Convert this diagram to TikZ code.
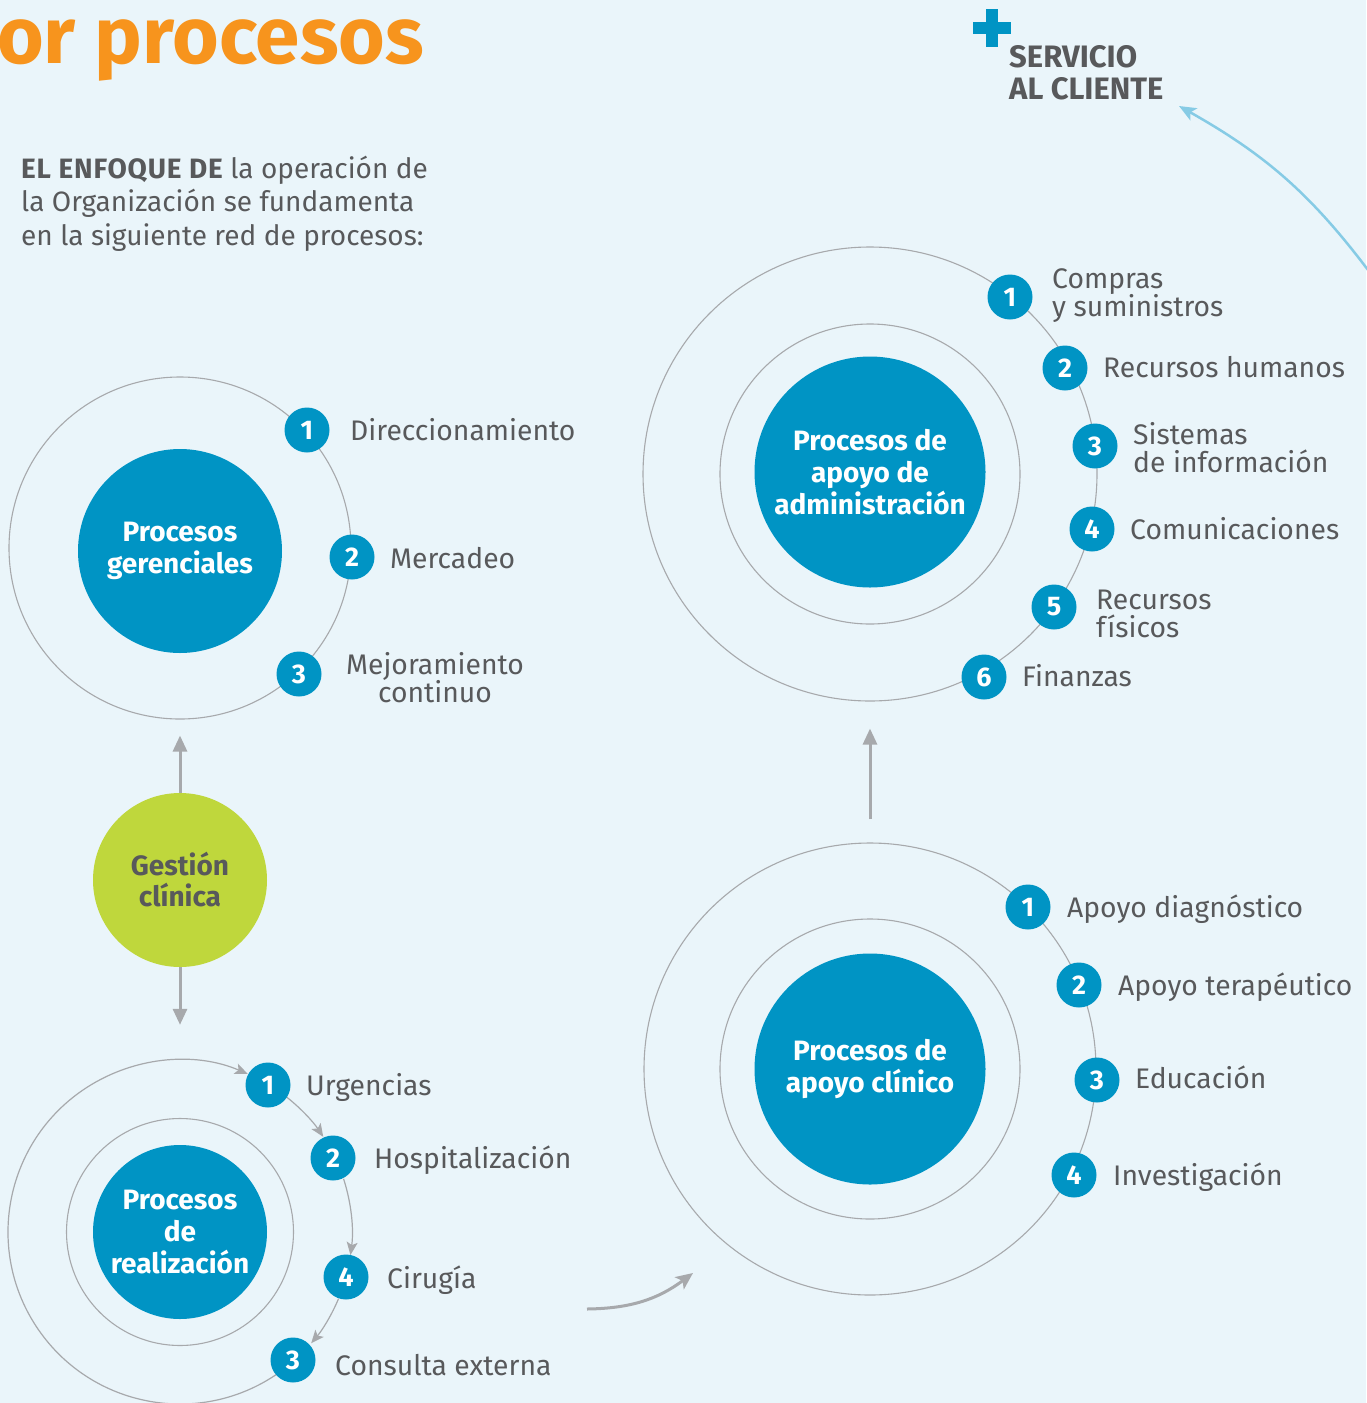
\documentclass[tikz,border=0pt]{standalone}
\usepackage{fontspec}
\setmainfont{Fira Sans}
\IfFontExistsTF{FiraSans-Light.otf}
 {\newfontfamily\lightfont{FiraSans-Light.otf}}
 {\newfontfamily\lightfont{Fira Sans}}
\IfFontExistsTF{FiraSans-SemiBold.otf}
 {\newfontfamily\heavyfont{FiraSans-SemiBold.otf}}
 {\newfontfamily\heavyfontbase{Fira Sans}\newcommand\heavyfont{\heavyfontbase\bfseries}}
\IfFontExistsTF{FiraSans-Medium.otf}
 {\newfontfamily\titlefont{FiraSans-Medium.otf}}
 {\newfontfamily\titlefont{Fira Sans}}
\newfontfamily\boldbase{Fira Sans}
\newcommand\strongfont{\boldbase\bfseries}
\usetikzlibrary{arrows.meta,calc}
\definecolor{bg}{HTML}{EAF5FA}
\definecolor{pblue}{HTML}{0094C4}
\definecolor{pgreen}{HTML}{BFD73C}
\definecolor{tgray}{HTML}{58595B}
\definecolor{rgray}{HTML}{A7A9AC}
\definecolor{porange}{HTML}{F7941D}
\definecolor{lblue}{HTML}{86CBE5}
\newcommand\stkL[2]{\vtop{\baselineskip=#1\lineskiplimit=-100pt\lineskip=0pt\halign{##\hfil\cr#2\crcr}}}
\newcommand\stkC[2]{\vtop{\baselineskip=#1\lineskiplimit=-100pt\lineskip=0pt\halign{\hfil##\hfil\cr#2\crcr}}}
\tikzset{
 ring/.style={circle, draw=rgray, line width=1.1pt, inner sep=0pt, minimum size=#1},
 core/.style={circle, fill=pblue, inner sep=0pt, minimum size=#1, text=white,
   font=\heavyfont\fontsize{28}{32}\selectfont, align=center},
 badge/.style={circle, fill=pblue, inner sep=0pt, minimum size=45pt, text=white,
   font=\heavyfont\fontsize{27}{27}\selectfont},
 lbl/.style={anchor=base west, inner sep=0pt, text=tgray, font=\lightfont\fontsize{28.3}{28.3}\selectfont},
 lblc/.style={lbl, anchor=base},
 garrow/.style={draw=rgray, line width=3pt, -{Triangle[length=16pt,width=14pt]}},
 flow/.style={draw=rgray, line width=1.2pt, -{Stealth[length=13pt,width=11pt,inset=3pt]}},
}
\begin{document}
\begin{tikzpicture}[x=1pt,y=-1pt]
\useasboundingbox (0,0) rectangle (1366,1403);
\fill[bg] (0,0) rectangle (1366,1403);

% title and intro
\node[anchor=base west, inner sep=0pt, text=porange, font=\heavyfont\fontsize{80}{80}\selectfont] (title) at (-3,63) {or procesos};
\node[anchor=base west, inner sep=0pt, text=tgray, font=\lightfont\fontsize{28}{34}\selectfont] (intro) at (21,178)
 {\stkL{33.5pt}{{\strongfont\addfontfeature{LetterSpace=3}EL ENFOQUE DE} la operación de\cr la Organización se fundamenta\cr en la siguiente red de procesos:}};

% servicio al cliente
\fill[pblue] (986,9) rectangle (998,47);
\fill[pblue] (973,22) rectangle (1011,34);
\node[anchor=base west, inner sep=0pt, text=tgray, font=\strongfont\fontsize{31}{32}\selectfont] (svc) at (1009,67)
 {\stkL{32pt}{SERVICIO\cr AL CLIENTE}};
\coordinate (blueStart) at (1374,278);
\coordinate (blueTip) at (1179,106);
\draw[lblue, line width=2.5pt, -{Stealth[length=17pt,width=14pt,inset=4pt]}] (blueStart) to[bend right=12] (blueTip);

% Procesos gerenciales
\node[ring=342pt] (gerO) at (180,548) {};
\node[core=204pt] (gerC) at (180,551) {Procesos\\gerenciales};
\node[badge] (g1) at (307,430) {1};
\node[badge] (g2) at (352,557) {2};
\node[badge] (g3) at (299,674) {3};
\node[lbl] (g1t) at (350,440) {Direccionamiento};
\node[lbl] (g2t) at (390,568) {Mercadeo};
\node[lblc] (g3t) at (435,674) {\stkC{28pt}{Mejoramiento\cr continuo}};

% Gestion clinica
\node[circle, fill=pgreen, inner sep=0pt, minimum size=174pt, text=tgray,
  font=\heavyfont\fontsize{28}{31}\selectfont, align=center] (gc) at (180,880) {Gestión\\clínica};
\draw[garrow, shorten >=16pt] (gc) -- (gerO);

% Procesos de realizacion
\node[circle, inner sep=0pt, minimum size=344pt] (realO) at (180,1232) {};
\node[ring=227pt] (realM) at (180,1232) {};
\node[core=174pt] (realC) at (180,1232) {Procesos\\de\\realización};
\draw[garrow, shorten >=35pt] (gc) -- (realO);
\draw[flow] ([shift={(-55.5:172pt)}]realO.center) arc[start angle=-55.5, end angle=-293.2, radius=172pt];
\draw[flow] ([shift={(51.6:172pt)}]realO.center) arc[start angle=51.6, end angle=33.6, radius=172pt];
\draw[flow] ([shift={(18:172pt)}]realO.center) arc[start angle=18, end angle=-7.7, radius=172pt];
\draw[flow] ([shift={(-22.8:172pt)}]realO.center) arc[start angle=-22.8, end angle=-40.3, radius=172pt];
\node[badge] (r1) at (268,1085) {1};
\node[badge] (r2) at (333,1158) {2};
\node[badge] (r4) at (346,1277) {4};
\node[badge] (r3) at (293,1360) {3};
\node[lbl] (r1t) at (306,1095) {Urgencias};
\node[lbl] (r2t) at (374,1168) {Hospitalización};
\node[lbl] (r4t) at (387,1288) {Cirugía};
\node[lbl] (r3t) at (335,1375) {Consulta externa};

% Procesos de apoyo de administracion
\node[ring=454pt] (admO) at (870,474) {};
\node[ring=300pt] (admM) at (870,474) {};
\node[core=231pt] (admC) at (870,472) {Procesos de\\apoyo de\\administración};
\node[badge] (a1) at (1010,297) {1};
\node[badge] (a2) at (1065,368) {2};
\node[badge] (a3) at (1095,446) {3};
\node[badge] (a4) at (1092,529) {4};
\node[badge] (a5) at (1054,607) {5};
\node[badge] (a6) at (984,677) {6};
\node[lbl] (a1t) at (1052,288) {\stkL{28pt}{Compras\cr y suministros}};
\node[lbl] (a2t) at (1103,377) {Recursos humanos};
\node[lbl] (a3t) at (1133,444) {\stkL{28pt}{Sistemas\cr de información}};
\node[lbl] (a4t) at (1130,539) {Comunicaciones};
\node[lbl] (a5t) at (1096,609) {\stkL{28pt}{Recursos\cr físicos}};
\node[lbl] (a6t) at (1022,686) {Finanzas};

% Procesos de apoyo clinico
\node[ring=452pt] (cliO) at (870,1069) {};
\node[ring=300pt] (cliM) at (870,1069) {};
\node[core=231pt] (cliC) at (870,1069) {Procesos de\\apoyo clínico};
\node[badge] (c1) at (1028,907) {1};
\node[badge] (c2) at (1079,985) {2};
\node[badge] (c3) at (1097,1080) {3};
\node[badge] (c4) at (1074,1175) {4};
\node[lbl] (c1t) at (1067,917) {Apoyo diagnóstico};
\node[lbl] (c2t) at (1118,995) {Apoyo terapéutico};
\node[lbl] (c3t) at (1135,1088) {Educación};
\node[lbl] (c4t) at (1113,1185) {Investigación};

\draw[garrow, shorten <=23pt, shorten >=27pt] (cliO) -- (admO);

% realizacion -> apoyo clinico
\coordinate (grStart) at (587,1309);
\coordinate (grTip) at (693,1273);
\draw[draw=rgray, line width=3pt, -{Stealth[length=17pt,width=15pt,inset=4pt]}] (grStart) to[bend right=18] (grTip);
\end{tikzpicture}
\end{document}
